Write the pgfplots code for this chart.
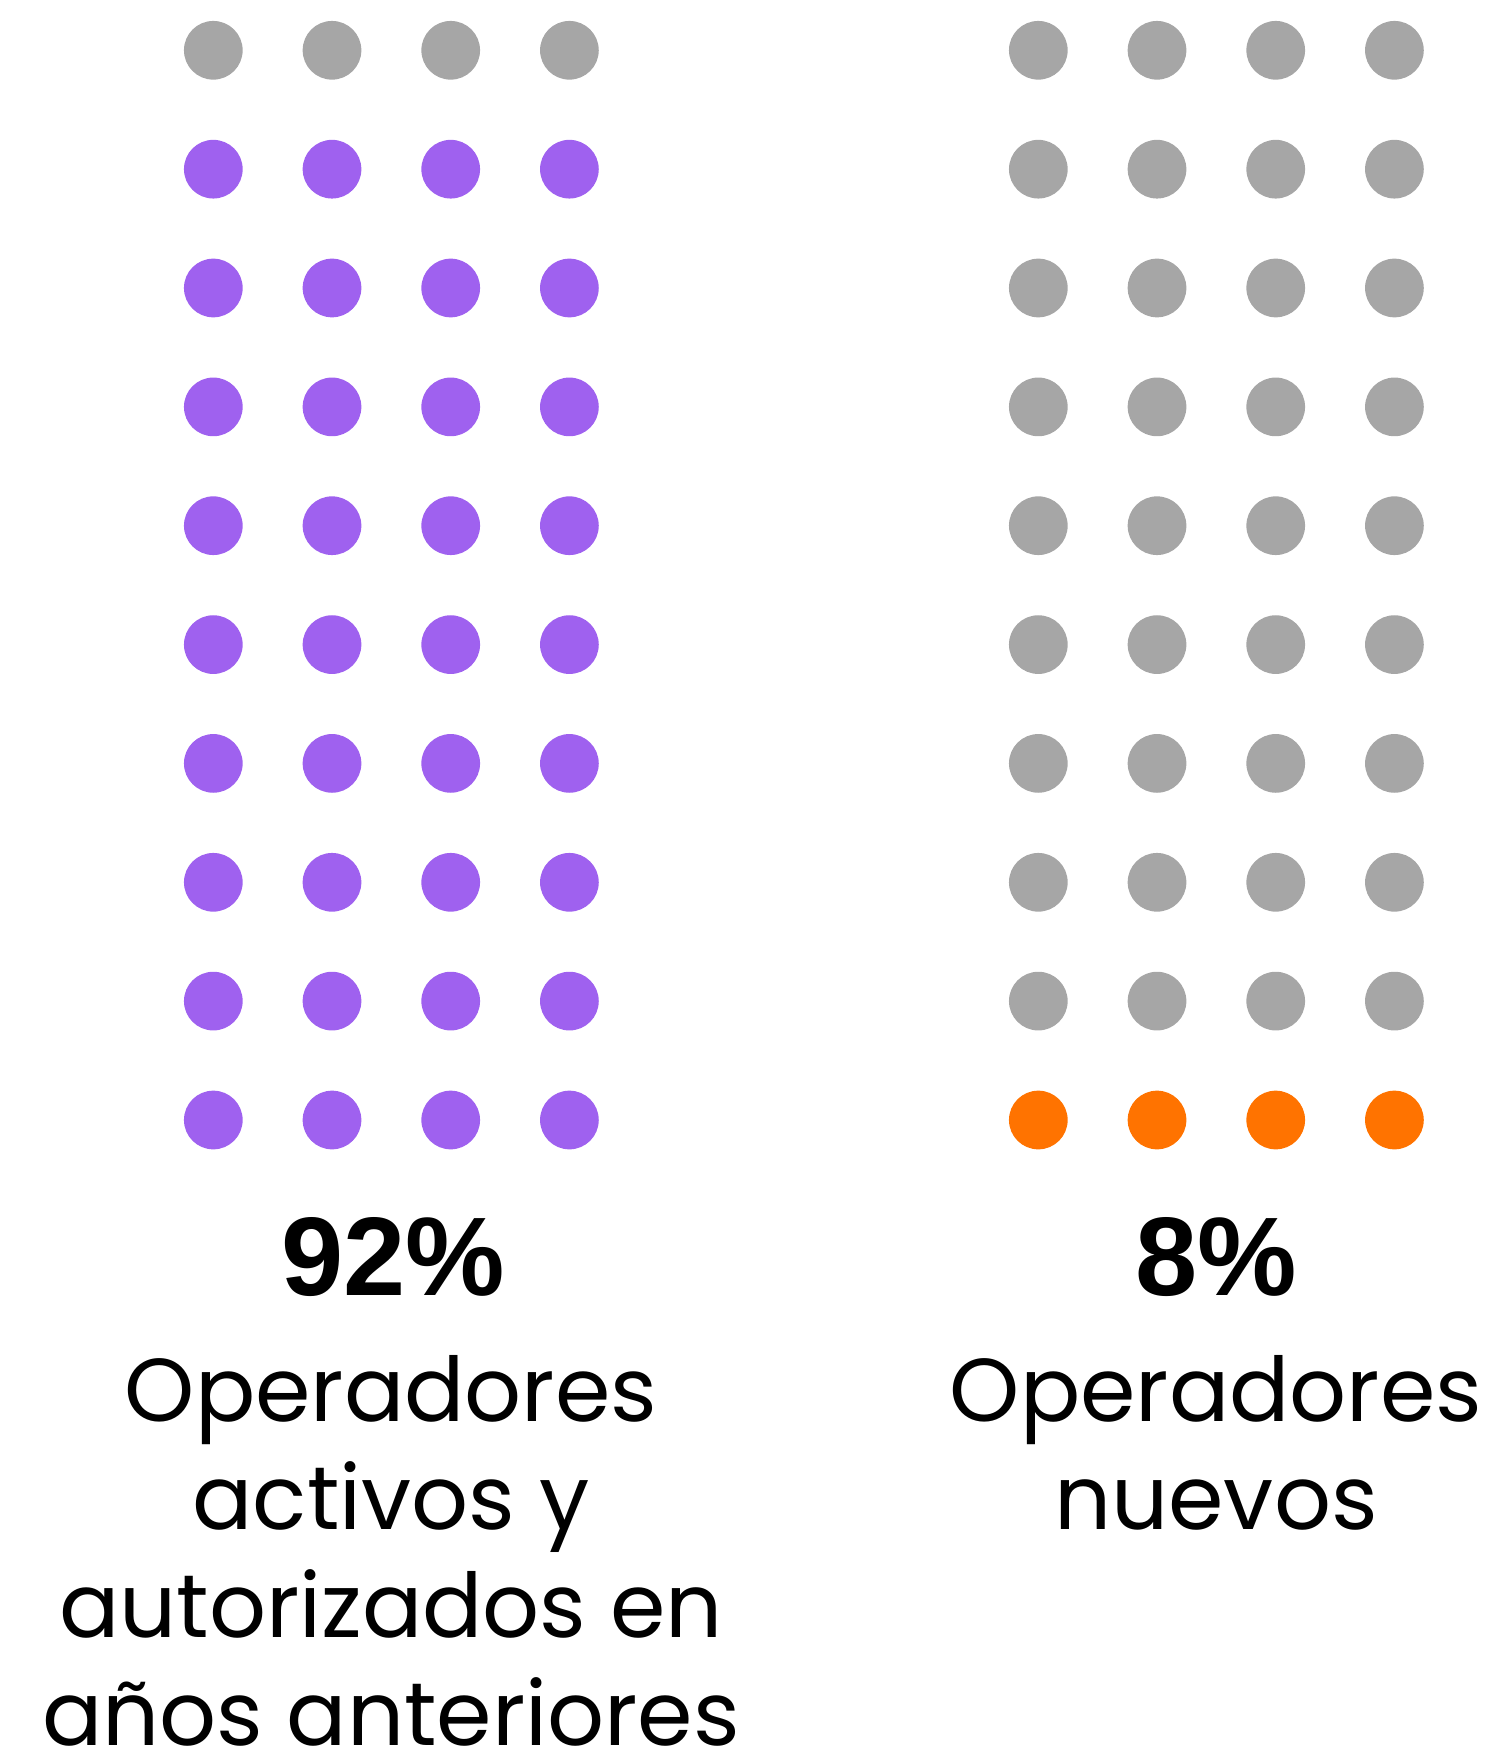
\documentclass[border=0pt]{standalone}
\usepackage{fontspec}
\setmainfont{Poppins}
\newfontfamily\pctfont{Liberation Sans}
\usepackage{pgfplots}
\pgfplotsset{compat=1.18}
\definecolor{dotgray}{RGB}{166,166,166}
\definecolor{dotpurple}{RGB}{159,97,239}
\definecolor{dotorange}{RGB}{255,115,0}

\begin{document}
\begin{tikzpicture}
\path[use as bounding box, clip] (0,0) rectangle (14.96cm,17.47cm);
\begin{axis}[
    at={(0,0)}, anchor=south west,
    scale only axis, width=14.96cm, height=17.47cm,
    xmin=0, xmax=1496, ymin=0, ymax=1747, y dir=reverse,
    hide axis, clip=false,
    only marks,
    every axis plot/.append style={mark=*, mark size=8.15pt},
]
% left group: 4 gray on top, 36 purple
\addplot[color=dotgray] coordinates {
(213.3,50.3)(332.0,50.3)(450.7,50.3)(569.4,50.3)
};
\addplot[color=dotpurple] coordinates {
(213.3,169.2)(332.0,169.2)(450.7,169.2)(569.4,169.2)
(213.3,288.0)(332.0,288.0)(450.7,288.0)(569.4,288.0)
(213.3,406.9)(332.0,406.9)(450.7,406.9)(569.4,406.9)
(213.3,525.7)(332.0,525.7)(450.7,525.7)(569.4,525.7)
(213.3,644.6)(332.0,644.6)(450.7,644.6)(569.4,644.6)
(213.3,763.4)(332.0,763.4)(450.7,763.4)(569.4,763.4)
(213.3,882.3)(332.0,882.3)(450.7,882.3)(569.4,882.3)
(213.3,1001.1)(332.0,1001.1)(450.7,1001.1)(569.4,1001.1)
(213.3,1120.0)(332.0,1120.0)(450.7,1120.0)(569.4,1120.0)
};
% right group: 36 gray, 4 orange at the bottom
\addplot[color=dotgray] coordinates {
(1038.3,50.3)(1157.0,50.3)(1275.7,50.3)(1394.4,50.3)
(1038.3,169.2)(1157.0,169.2)(1275.7,169.2)(1394.4,169.2)
(1038.3,288.0)(1157.0,288.0)(1275.7,288.0)(1394.4,288.0)
(1038.3,406.9)(1157.0,406.9)(1275.7,406.9)(1394.4,406.9)
(1038.3,525.7)(1157.0,525.7)(1275.7,525.7)(1394.4,525.7)
(1038.3,644.6)(1157.0,644.6)(1275.7,644.6)(1394.4,644.6)
(1038.3,763.4)(1157.0,763.4)(1275.7,763.4)(1394.4,763.4)
(1038.3,882.3)(1157.0,882.3)(1275.7,882.3)(1394.4,882.3)
(1038.3,1001.1)(1157.0,1001.1)(1275.7,1001.1)(1394.4,1001.1)
};
\addplot[color=dotorange] coordinates {
(1038.3,1120.0)(1157.0,1120.0)(1275.7,1120.0)(1394.4,1120.0)
};

% percentages
\node[anchor=base, font=\pctfont\bfseries\fontsize{31.8}{38}\selectfont]
    at (axis cs:393,1295) {92\%};
\node[anchor=base, font=\pctfont\bfseries\fontsize{31.8}{38}\selectfont]
    at (axis cs:1216,1295) {8\%};

% labels
\tikzset{lbl/.style={anchor=base, inner sep=0pt, font=\fontsize{25.4}{30}\selectfont}}
\node[lbl] at (axis cs:391,1421) {Operadores};
\node[lbl] at (axis cs:391,1529) {activos y};
\node[lbl] at (axis cs:391,1637) {autorizados en};
\node[lbl] at (axis cs:391,1745) {años anteriores};
\node[lbl] at (axis cs:1216,1421) {Operadores};
\node[lbl] at (axis cs:1216,1529) {nuevos};
\end{axis}
\end{tikzpicture}
\end{document}
